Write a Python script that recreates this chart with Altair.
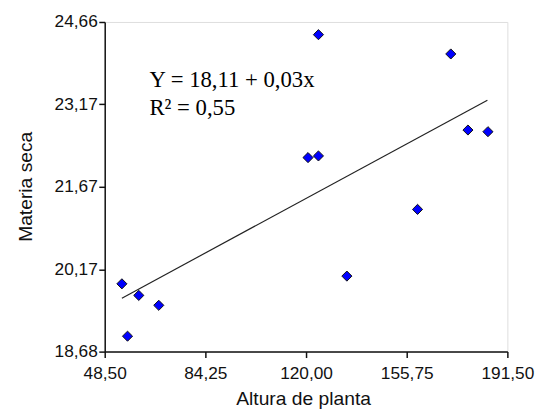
import altair as alt
import pandas as pd

# Data
altura = [54.6, 56.6, 60.6, 67.7, 120.7, 124.4, 124.4, 134.5, 159.6, 171.4, 177.5, 184.6]
materia = [19.91, 18.96, 19.70, 19.52, 22.20, 22.23, 24.43, 20.05, 21.26, 24.08, 22.70, 22.67]

line_x = [54.6, 184.4]
line_y = [19.65, 23.24]

x_ticks = [48.50, 84.25, 120.00, 155.75, 191.50]
y_ticks = [18.68, 20.17, 21.67, 23.17, 24.66]

eq_text = ["Y = 18,11 + 0,03x", "R\u00b2 = 0,55"]
eq_x = [64.4, 64.4]
eq_y = [23.474, 22.979]

pts = pd.DataFrame({"x": altura, "y": materia})
reg = pd.DataFrame({"x": line_x, "y": line_y})
ann = pd.DataFrame({"x": eq_x, "y": eq_y, "t": eq_text})

label_expr = "replace(format(datum.value, '.2f'), '.', ',')"

xs = alt.Scale(domain=[x_ticks[0], x_ticks[-1]], nice=False, zero=False)
ys = alt.Scale(domain=[y_ticks[0], y_ticks[-1]], nice=False, zero=False)

x_axis = alt.Axis(values=x_ticks, labelExpr=label_expr, title="Altura de planta",
                  grid=False, domainColor="#111", domainWidth=1.5, tickColor="#111",
                  tickWidth=1.5, tickSize=6, labelFont="Liberation Sans", labelFontSize=17.5,
                  labelColor="#111", labelBaseline="alphabetic", labelPadding=21,
                  titleFont="Liberation Sans", titleFontSize=19.5, titleFontWeight="normal",
                  titleColor="#111", titleBaseline="alphabetic", titleAlign="center",
                  titleX=201, titleY=53.5, labelFlush=False, labelOverlap=False)
y_axis = alt.Axis(values=y_ticks, labelExpr=label_expr, title="Materia seca",
                  grid=False, domainColor="#111", domainWidth=1.5, tickColor="#111",
                  tickWidth=1.5, tickSize=6, labelFont="Liberation Sans", labelFontSize=17.5,
                  labelColor="#111", labelPadding=1.5, titleFont="Liberation Sans",
                  titleFontSize=19.5, titleFontWeight="normal", titleColor="#111",
                  titleBaseline="alphabetic", titleAlign="center", titleAngle=270,
                  titleX=-74, titleY=166.5, labelFlush=False, labelOverlap=False)

points = alt.Chart(pts).mark_point(shape="diamond", filled=True, size=105,
                                   fill="#0000FF", stroke="#111", strokeWidth=1,
                                   opacity=1).encode(
    x=alt.X("x:Q", scale=xs, axis=x_axis),
    y=alt.Y("y:Q", scale=ys, axis=y_axis),
)

line = alt.Chart(reg).mark_line(color="#222", strokeWidth=1.2).encode(
    x=alt.X("x:Q", scale=xs),
    y=alt.Y("y:Q", scale=ys),
)

text = alt.Chart(ann).mark_text(font="Liberation Serif", fontSize=23, align="left",
                                baseline="alphabetic", color="#000").encode(
    x=alt.X("x:Q", scale=xs),
    y=alt.Y("y:Q", scale=ys),
    text="t:N",
)

chart = alt.layer(line, points, text).properties(
    width=408, height=334,
    autosize=alt.AutoSizeParams(type="none"),
    padding={"left": 98, "top": 11.5, "right": 29, "bottom": 58},
).configure_view(stroke=None).configure(background="white")

chart.save("out.html", embed_options={"renderer": "svg", "actions": False})
